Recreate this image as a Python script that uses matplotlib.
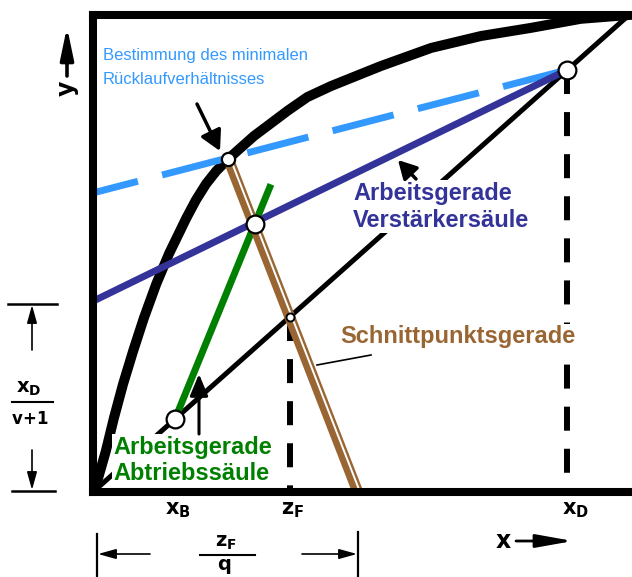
import matplotlib
matplotlib.use('Agg')
import matplotlib.pyplot as plt
import matplotlib.transforms as mtransforms

plt.rcParams['font.family'] = ['Liberation Sans', 'DejaVu Sans']
plt.rcParams['lines.scale_dashes'] = False
plt.rcParams['mathtext.fontset'] = 'dejavusans'

# ---------------- data ----------------
x_eq = [0.0, 0.007, 0.024, 0.039, 0.056, 0.075, 0.095, 0.118, 0.142,
        0.174, 0.192, 0.211, 0.230, 0.252, 0.300, 0.364, 0.400, 0.444, 0.537,
        0.631, 0.724, 0.817, 0.910, 1.0]
y_eq = [0.0, 0.019, 0.086, 0.155, 0.226, 0.296, 0.365, 0.436, 0.500,
        0.574, 0.612, 0.646, 0.673, 0.698, 0.746, 0.800, 0.828, 0.851, 0.893,
        0.931, 0.956, 0.973, 0.992, 1.0]

x_D = 0.885
x_B = 0.153
z_F = 0.367
zF_over_q = 0.494
pinch_x, pinch_y = 0.2525, 0.698
rect_intercept = 0.40
minref_intercept = 0.627
op_x, op_y = 0.302, 0.562
strip_end_x, strip_end_y = 0.332, 0.645

diag_x = [0.0, 1.0]
diag_y = [0.0, 1.0]
minref_x = [0.0, x_D]
minref_y = [minref_intercept, x_D]
rect_x = [0.0, x_D]
rect_y = [rect_intercept, x_D]
strip_x = [x_B, strip_end_x]
strip_y = [x_B, strip_end_y]
q_x = [pinch_x, zF_over_q]
q_y = [pinch_y, 0.0]

# ---------------- figure ----------------
W, H = 632, 577
fig = plt.figure(figsize=(W / 100, H / 100), dpi=100)
L, B, T = 93, 492, 15
ppu_x = 536
ax_w = W + 10 - L
ax = fig.add_axes([L / W, (H - B) / H, ax_w / W, (B - T) / H])
ax.set_xlim(0, ax_w / ppu_x)
ax.set_ylim(0, 1)
ax.set_xticks([])
ax.set_yticks([])
for s in ['left', 'bottom', 'top']:
    ax.spines[s].set_linewidth(5.8)
    ax.spines[s].set_capstyle('projecting')
    ax.spines[s].set_zorder(8)
ax.spines['right'].set_visible(False)

LBLUE = '#3399FF'
DBLUE = '#333399'
GREEN = '#008000'
BROWN = '#996633'

# diagonal
ax.plot(diag_x, diag_y, color='k', lw=3.6, zorder=2, solid_capstyle='butt')
# equilibrium curve
ax.plot(x_eq, y_eq, color='k', lw=7.2, zorder=3, solid_joinstyle='round')
# minimum reflux line (dashed)
ax.plot(minref_x, minref_y, color=LBLUE, lw=5, ls=(12, (45.4, 18)), zorder=4)
# rectifying line
ax.plot(rect_x, rect_y, color=DBLUE, lw=5, zorder=4, solid_capstyle='butt')
# stripping line
ax.plot(strip_x, strip_y, color=GREEN, lw=5, zorder=4, solid_capstyle='butt')
# q-line (double brown line)
ax.plot(q_x, q_y, color=BROWN, lw=7.8, zorder=4.5, solid_capstyle='butt')
off = mtransforms.ScaledTranslation(2.2 / 100, 0, fig.dpi_scale_trans)
ax.plot(q_x, q_y, color='white', lw=1.4, zorder=4.6, solid_capstyle='butt',
        transform=ax.transData + off)
# vertical dashed lines
ax.plot([x_D, x_D], [x_D, 0], color='k', lw=4.3, ls=(0, (17.3, 13)), zorder=3)
ax.plot([z_F, z_F], [z_F, 0], color='k', lw=4.3, ls=(0, (17.3, 13)), zorder=3)

# rings
ring = dict(marker='o', mfc='white', mec='k', ls='none', zorder=9)
ax.plot([pinch_x], [pinch_y], ms=9.5, mew=1.6, **ring)
ax.plot([op_x], [op_y], ms=12.8, mew=1.6, **ring)
ax.plot([x_B], [x_B], ms=12.8, mew=1.6, **ring)
ax.plot([z_F], [z_F], ms=5.8, mew=1.4, **ring)
ax.plot([x_D], [x_D], ms=12.8, mew=1.6, **ring)

# ---------------- overlay in pixel coordinates ----------------
ov = fig.add_axes([0, 0, 1, 1], zorder=10)
ov.set_xlim(0, W)
ov.set_ylim(H, 0)
ov.axis('off')
ov.patch.set_visible(False)

wbox = dict(facecolor='white', edgecolor='none', pad=1.0)

# for multi-line texts, y is the baseline of the last line
ov.text(103, 84, 'Bestimmung des minimalen\nRücklaufverhältnisses', color=LBLUE,
        fontsize=12, va='baseline', ha='left', linespacing=1.74)
ov.text(353, 227, 'Arbeitsgerade\nVerstärkersäule', color=DBLUE, fontsize=17,
        fontweight='bold', va='baseline', ha='left', bbox=wbox, linespacing=1.24)
ov.text(340, 343, 'Schnittpunktsgerade', color=BROWN, fontsize=17,
        fontweight='bold', va='baseline', ha='left', bbox=wbox)
ov.text(113, 480, 'Arbeitsgerade\nAbtriebssäule', color=GREEN, fontsize=17,
        fontweight='bold', va='baseline', ha='left', bbox=wbox, linespacing=1.19)

def arrow(tail, tip, lw=2.2, hl=0.5, hw=0.25, ms=20):
    ov.annotate('', xy=tip, xytext=tail,
                arrowprops=dict(arrowstyle=f'-|>,head_length={hl},head_width={hw}',
                                lw=lw, color='k', shrinkA=0, shrinkB=0,
                                mutation_scale=ms))

arrow((197, 104), (220, 151), lw=2.5, hl=0.55, hw=0.3, ms=22)
arrow((416, 179), (398, 160), lw=2.5, hl=0.55, hw=0.3, ms=20)
arrow((199, 434), (199, 374), lw=2.2, hl=0.6, hw=0.25, ms=22)
# connector for q-line label
ov.plot([317, 371], [365, 355], color='k', lw=1.2)

# axis arrows
ov.text(67, 88, 'y', fontsize=17, fontweight='bold', rotation=90,
        ha='center', va='center', family='DejaVu Sans')
arrow((67, 76), (67, 27), lw=2.6, hl=1.2, hw=0.25, ms=16)
ov.text(503, 541, 'x', fontsize=17, fontweight='bold', ha='center', va='center',
        family='DejaVu Sans')
arrow((516, 541), (573, 541), lw=2.0, hl=1.4, hw=0.25, ms=16)

# tick-like labels under the axis
lab_tr = mtransforms.blended_transform_factory(ax.transData, ov.transData)
lab = dict(fontsize=15, ha='center', va='center', transform=lab_tr)
ax.text(x_B + 0.006, 510, r'$\mathbf{x_B}$', **lab)
ax.text(z_F + 0.006, 510, r'$\mathbf{z_F}$', **lab)
ax.text(x_D + 0.015, 510, r'$\mathbf{x_D}$', **lab)

# left dimension x_D/(v+1)
ov.plot([8, 57], [304, 304], color='k', lw=1.8)
ov.plot([12, 55], [491, 491], color='k', lw=1.8)
arrow((32, 350), (32, 305), lw=1.2, hl=0.9, hw=0.25, ms=12)
arrow((32, 450), (32, 490), lw=1.2, hl=0.9, hw=0.25, ms=12)
ov.plot([12, 53], [402, 402], color='k', lw=1.5)
ov.text(29, 389, r'$\mathbf{x_D}$', fontsize=14, ha='center', va='center')
ov.text(30, 419, r'$\mathbf{v\!+\!1}$', fontsize=12, ha='center', va='center')

# bottom dimension z_F/q
ov.plot([97, 97], [534, 577], color='k', lw=1.6)
ov.plot([358, 358], [532, 577], color='k', lw=1.6)
arrow((150, 554), (98, 554), lw=1.2, hl=0.9, hw=0.25, ms=12)
arrow((302, 554), (357, 554), lw=1.2, hl=0.9, hw=0.25, ms=12)
ov.plot([200, 255], [555, 555], color='k', lw=1.5)
ov.text(226, 543, r'$\mathbf{z_F}$', fontsize=14, ha='center', va='center')
ov.text(224, 567, r'$\mathbf{q}$', fontsize=14, ha='center', va='center')

fig.savefig('out.png', dpi=100)
